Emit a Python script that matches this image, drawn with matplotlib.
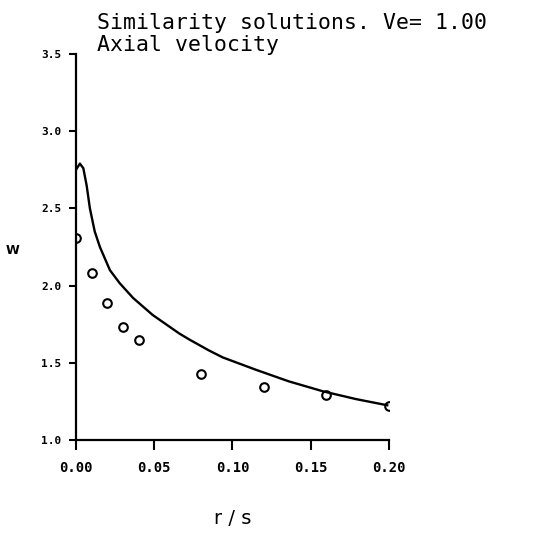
import matplotlib
matplotlib.use("Agg")
import matplotlib.pyplot as plt

# measured points (open circles)
r_meas = [0.0, 0.01, 0.02, 0.03, 0.04, 0.08, 0.12, 0.16, 0.20]
w_meas = [2.31, 2.08, 1.89, 1.73, 1.65, 1.43, 1.34, 1.29, 1.22]

# similarity solution curve
r_sim = [0.0, 0.0025, 0.0047, 0.0068, 0.0089, 0.012, 0.0153, 0.0217, 0.028,
         0.0365, 0.049, 0.066, 0.0726, 0.085, 0.0938, 0.115, 0.136, 0.158,
         0.179, 0.199]
w_sim = [2.75, 2.79, 2.76, 2.65, 2.50, 2.35, 2.25, 2.10, 2.015,
         1.92, 1.81, 1.69, 1.65, 1.58, 1.535, 1.455, 1.38, 1.315,
         1.265, 1.225]

x_ticks = [0.0, 0.05, 0.10, 0.15, 0.20]
x_labels = ["0.00", "0.05", "0.10", "0.15", "0.20"]
y_ticks = [1.0, 1.5, 2.0, 2.5, 3.0, 3.5]
y_labels = ["1.0", "1.5", "2.0", "2.5", "3.0", "3.5"]

fig = plt.figure(figsize=(5.57, 5.33), dpi=100)
ax = fig.add_axes([0.1364, 0.1745, 0.5616, 0.7242])

ax.plot(r_sim, w_sim, color="black", lw=1.7, solid_joinstyle="round")
ax.plot(r_meas, w_meas, "o", mfc="none", mec="black", mew=1.5, ms=6.2)

ax.set_xlim(0.0, 0.20)
ax.set_ylim(1.0, 3.5)
ax.set_xticks(x_ticks)
ax.set_xticklabels(x_labels)
ax.set_yticks(y_ticks)
ax.set_yticklabels(y_labels)

for side in ["top", "right"]:
    ax.spines[side].set_visible(False)
for side in ["left", "bottom"]:
    ax.spines[side].set_linewidth(1.6)

ax.tick_params(axis="y", direction="out", length=5, width=1.5, pad=5.5)
ax.tick_params(axis="x", direction="out", length=7, width=1.5, pad=8)
for lab in ax.get_yticklabels():
    lab.set_fontproperties({"family": "DejaVu Sans Mono", "weight": "bold",
                            "size": 8})
for lab in ax.get_xticklabels():
    lab.set_fontproperties({"family": "DejaVu Sans Mono", "weight": "bold",
                            "size": 10})

fig.text(0.418, 0.028, "r / s", fontsize=14, ha="center", va="center")
fig.text(0.022, 0.53, "W", fontsize=9, fontweight="bold", ha="center",
         va="center")

# two-line heading
fig.text(0.174, 0.9456, "Similarity solutions. Ve= 1.00", fontsize=15.5,
         family="DejaVu Sans Mono", ha="left", va="baseline")
fig.text(0.174, 0.9043, "Axial velocity", fontsize=15.5,
         family="DejaVu Sans Mono", ha="left", va="baseline")

fig.savefig("out.png", dpi=100)
